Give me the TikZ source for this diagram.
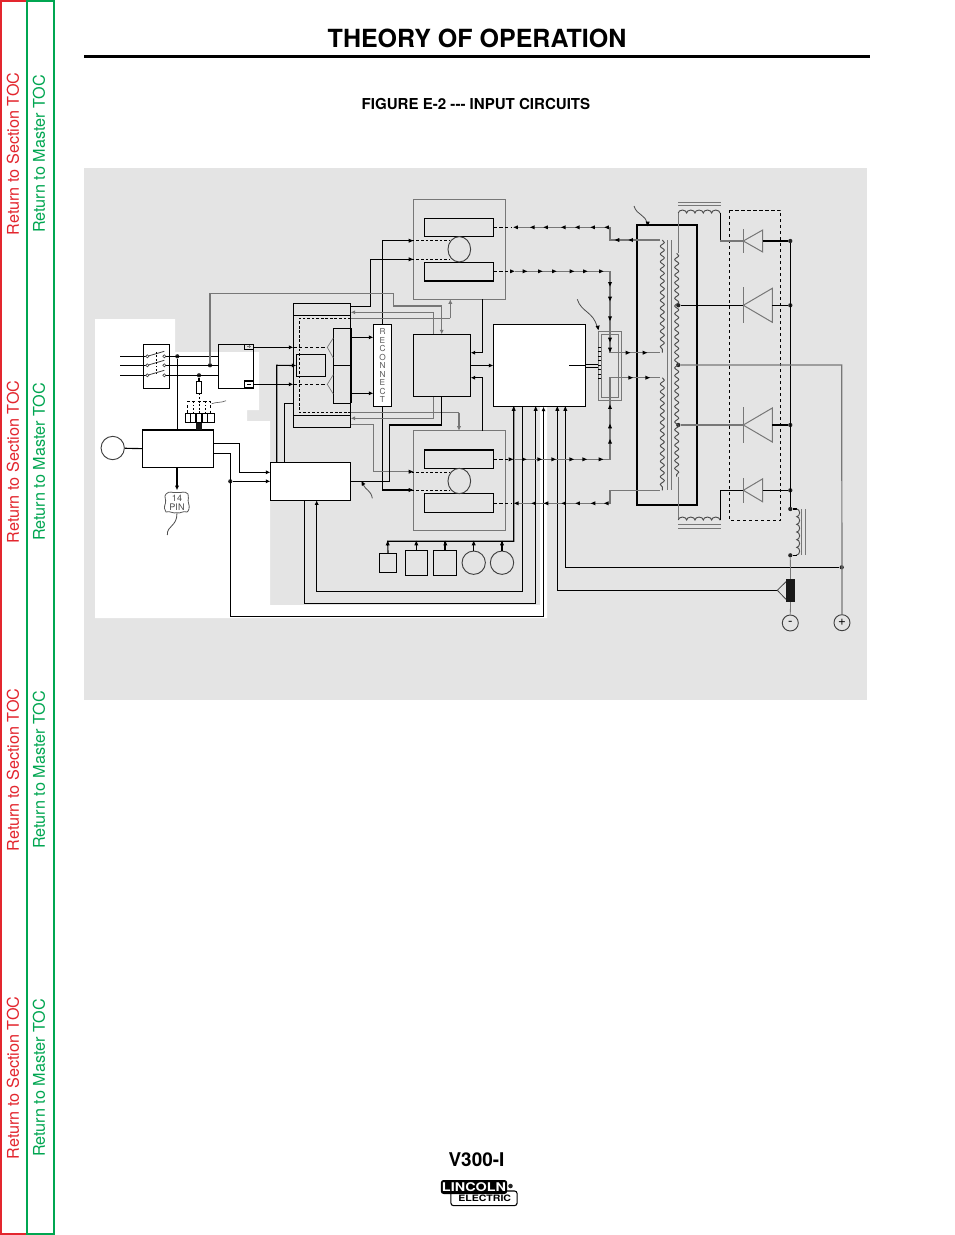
\documentclass[tikz,border=0pt]{standalone}
\usepackage{fontspec}
\setmainfont{TeX Gyre Heros}
\usetikzlibrary{arrows.meta,decorations.pathmorphing,shapes.geometric}
\definecolor{panelgray}{HTML}{E4E4E4}
\definecolor{tocred}{HTML}{E3262E}
\definecolor{tocgreen}{HTML}{00A651}
\definecolor{midgray}{HTML}{777777}
\tikzset{
	blk/.style={draw,line width=.85pt,inner sep=0,outer sep=0},
	gblk/.style={draw=midgray,line width=.9pt,inner sep=0,outer sep=0},
	wire/.style={line width=.85pt},
	gwire/.style={line width=.9pt,draw=midgray},
	dwire/.style={line width=.75pt,dash pattern=on 2.4pt off 1.8pt},
	thin dwire/.style={line width=.6pt,dash pattern=on 1.2pt off 1.4pt},
	jdot/.style={circle,fill=black!85,inner sep=0,minimum size=3.2pt},
	ring/.style={circle,draw=black!75,line width=.7pt,inner sep=0},
	oval/.style={ellipse,draw=black!75,line width=.7pt,inner sep=0},
	winding/.style={line width=.7pt,draw=black!70,decorate,decoration={snake,segment length=5.8pt,amplitude=1.5pt}},
	choke/.style={line width=.7pt,draw=black!70,decorate,decoration={bumps,segment length=12.5pt,amplitude=2.2pt}},
	tocside/.style={rotate=90,font=\fontsize{12.15pt}{14pt}\selectfont}
}
% box from its two corners, in pixels of the page
\newcommand{\blk}[6][blk]{\node[#1,minimum width={(#5-#3)*.75pt},minimum height={(#6-#4)*.75pt}] (#2) at ({(#3+#5)/2},{(#4+#6)/2}) {};}
% small arrow head in the run of a wire
\newcommand{\tipat}[3]{\fill[shift={(#1,#2)},rotate=#3] (1.7pt,0)--(-1.7pt,1.5pt)--(-1.7pt,-1.5pt)--cycle;}
% diode: name, y, half height, base x
\newcommand{\diode}[4]{
	\coordinate (#1a) at (743.3,#2);
	\coordinate (#1k) at (#4,#2);
	\draw[gwire,line width=.75pt] (743.3,#2-#3-1) -- (743.3,#2+#3+1);
	\draw[gwire,line width=.75pt] (#1a) -- (#4,#2-#3) -- (#4,#2+#3) -- cycle;
}
\begin{document}
\begin{tikzpicture}[x=.75pt,y=-.75pt,>={Latex[length=3.4pt,width=3.2pt]}]
	\useasboundingbox (0,0) rectangle (954,1235);
	\fill[white] (0,0) rectangle (954,1235);

	% side tabs
	\draw[tocred,line width=1.1pt] (1,1) rectangle (27,1234);
	\draw[tocgreen,line width=1.5pt] (27,1) rectangle (54,1234);
	\foreach \y in {154,462,770,1078} {
		\node[tocside,text=tocred] (sec\y) at (13,\y) {Return to Section TOC};
		\node[tocside,text=tocgreen] (mas\y) at (39,\y) {Return to Master TOC};
	}

	% heading
	\node[font=\fontsize{18.75pt}{22pt}\bfseries\selectfont] (title) at (477,38) {THEORY OF OPERATION};
	\draw[line width=2.2pt] (84,56.5) -- (870,56.5);
	\node[font=\fontsize{11.3pt}{13pt}\bfseries\selectfont] (figname) at (476,104.5) {FIGURE E-2 -{}-{}- INPUT CIRCUITS};

	% panel
	\fill[panelgray] (84,168) rectangle (867,700);
	\fill[white] (95,319) -- (175,319) -- (175,352) -- (259,352) -- (259,410) -- (247,410) -- (247,421)
		-- (270,421) -- (270,605) -- (540,605) -- (540,400) -- (547,400) -- (547,618) -- (95,618) -- cycle;

	% blocks
	\blk{switch}{143.3}{344.3}{169.7}{388.3}
	\blk{bridge}{218.3}{344.3}{253.7}{388.3}
	\blk{bridgep}{244.3}{344.3}{253.7}{349.3}
	\blk{bridgem}{244.3}{381}{253.7}{387.3}
	\blk{ctrl}{142.3}{430}{213.3}{467.3}
	\blk{resist}{196.3}{381.3}{201.7}{393.7}
	\blk{strip}{185.3}{413.3}{214.7}{422.7}
	\node[ring,minimum size=17.5pt] (meter) at (112.7,448) {};
	\node[font=\fontsize{6.8pt}{7pt}\selectfont,align=center,text=black!70] (pin14) at (177,502.5) {14\\[-.5pt]PIN};
	\blk{hub}{413.3}{334.3}{470.7}{396.7}
	\blk[gblk]{scrtop}{413.3}{199.3}{505.7}{299.3}
	\blk[gblk]{scrbot}{413.3}{430.7}{505.7}{530.7}
	\blk[blk,fill=white]{board}{270.3}{462.3}{350.7}{500.3}
	\blk[blk,fill=white]{chip}{493.3}{324.3}{585.7}{406.7}
	\node[blk,line width=1.5pt,minimum width=45.5pt,minimum height=210.2pt] (xfmr) at (667,365.2) {};
	\blk{fanbox}{379.3}{553.3}{396.7}{572.7}
	\blk{solb}{405.3}{550.3}{427.7}{575.3}
	\blk{solc}{433.3}{550.3}{456.7}{575.3}
	\node[ring,minimum size=17.5pt] (fand) at (473.7,562.7) {};
	\node[ring,minimum size=17.5pt] (fane) at (502,562.7) {};
	\node[ring,minimum size=12pt,font=\fontsize{10pt}{10pt}\selectfont] (neg) at (790.3,623) {-};
	\node[ring,minimum size=12pt,font=\fontsize{10pt}{10pt}\selectfont] (pos) at (842,622.7) {+};

	% junctions
	\node[jdot] (ja) at (177.3,356.3) {};
	\node[jdot] (jb) at (210,365.3) {};
	\node[jdot] (jc) at (199,375.3) {};
	\node[jdot] (jd) at (230.3,481.3) {};
	\node[jdot] (je) at (678.3,305.3) {};
	\node[jdot] (jf) at (678.3,365) {};
	\node[jdot] (jg) at (678.3,425) {};
	\foreach \n/\y in {b1/241,b2/305.3,b3/425,b4/490.3,b5/509,b6/555.3} {
		\node[jdot] (\n) at (790.3,\y) {};
	}
	\node[jdot] (jh) at (841.7,567.3) {};

	% input side
	\foreach \y/\n in {356.3/a,365.3/b,375.3/c} {
		\coordinate (swl\n) at (147.3,\y);
		\coordinate (swr\n) at (164.3,\y);
		\draw[wire] (120,\y) -- (swl\n);
		\draw[wire] (swr\n) -- (218.3,\y);
		\draw[line width=.6pt,black!75] (swl\n) -- (164.3,\y-5);
		\fill[white,draw=black!80,line width=.4pt] (swl\n) circle (1.2pt) (swr\n) circle (1.2pt);
	}
	\draw[thin dwire] (156.3,352) -- (156.3,373);
	\draw[wire] (ja) -- (ja |- ctrl.north);
	\draw[wire] (jc) -- (resist.north);
	\draw[thin dwire] (resist.south) -- (199,413.3);
	\draw[dwire,line width=.6pt] (187.3,413.3) -- (187.3,401.3) -- (210.7,401.3) -- (210.7,413.3);
	\foreach \x in {193.3,199,205} {
		\draw[thin dwire] (\x,401.3) -- (\x,413.3);
	}
	\foreach \x in {190.7,196,202,207.3} {
		\draw[wire] (\x,413.3) -- (\x,422.7);
	}
	\fill[black!90] (196,422.7) rectangle (202,430);
	\draw[black!60,line width=.5pt] (211.7,403.7) .. controls (217,401.7) and (221,403) .. (226,400.7);
	\draw[wire] (meter) -- (ctrl.west);
	\draw[wire,->] (ctrl.south -| pin14) -- (pin14.north);
	\draw[black!65,line width=.6pt] (166,494) .. controls (170,490) and (172,493.5) .. (177,492.5)
		.. controls (182,493.5) and (184,490) .. (188,494) .. controls (190,497) and (187,499) .. (188.5,503)
		.. controls (190,507) and (189,511) .. (187,512) .. controls (183,510.5) and (180,514) .. (177,512.7)
		.. controls (173,514) and (170,510.5) .. (166,512) .. controls (164,510) and (164,507) .. (165.5,503)
		.. controls (166.5,499) and (163.5,497) .. (166,494);
	\draw[black!70,line width=.6pt] (177,513) .. controls (177,527) and (167,525) .. (167.3,535);
	\draw[midgray,line width=.5pt] (247,346.8) -- (251,346.8) (249,345.3) -- (249,348.3);
	\draw[line width=.5pt] (247,384.2) -- (251,384.2);

	% power block
	\blk{power}{293.3}{303.3}{350.7}{427.3}
	\draw[wire] (power.west |- 0,315.3) -- (power.east |- 0,315.3);
	\draw[wire] (power.west |- 0,415.3) -- (power.east |- 0,415.3);
	\blk{gate}{296.3}{354.3}{325.7}{376.7}
	\blk{drive}{333.3}{328.3}{350.7}{403.3}
	\draw[wire] (drive.west |- 0,365.3) -- (drive.east |- 0,365.3);
	\draw[line width=1.3pt] (351,328.3) -- (351,403.3);
	\draw[wire,->] (bridgep.east |- 0,347.3) -- (power.west |- 0,347.3);
	\draw[wire,->] (bridgem.east |- 0,384.3) -- (power.west |- 0,384.3);
	\draw[dwire] (293.3,347.3) -- (327.3,347.3);
	\draw[dwire] (293.3,384.3) -- (327.3,384.3);
	\draw[midgray,line width=.5pt] (333.3,338) -- (327.3,347.3) -- (333.3,358);
	\draw[midgray,line width=.5pt] (333.3,374.7) -- (327.3,384.3) -- (333.3,394);
	\draw[thin dwire,line width=.7pt,dash pattern=on 2pt off 1.4pt] (350.7,318.3) -- (299.3,318.3) -- (299.3,412.7) -- (350.7,412.7);
	\draw[wire,->] (board.north -| 276.7,0) -- (276.7,365.3) -- (gate.west);
	\draw[wire] (board.north -| 284.3,0) -- (284.3,403.3) -- (power.west |- 0,403.3);

	% wires round the hub
	\draw[wire] (411.7,240.7) -- (382.3,240.7) -- (382.3,490) -- (411.7,490);
	\tipat{411}{240.7}{0}
	\tipat{411}{490}{0}
	\draw[wire] (411,259.3) -- (370.3,259.3) -- (370.3,306.5) -- (350.7,306.5);
	\tipat{411}{259.3}{0}
	\draw[gwire] (jb) -- (210,293.7) -- (393.3,293.7) -- (393.3,306) -- (441.7,306);
	\draw[gwire,->] (441.7,306) -- (441.7,334.3);
	\draw[gwire,<-] (350.7,312.3) -- (433.3,312.3) -- (433.3,334.3);
	\draw[gwire] (350.7,318.3) -- (450.3,318.3);
	\draw[gwire,->] (450.3,318.3) -- (scrtop.south -| 450.3,0);
	\draw[gwire] (350.7,412.7) -- (459,412.7);
	\draw[gwire,->] (459,412.7) -- (scrbot.north -| 459,0);
	\draw[gwire,<-] (350.7,418.3) -- (433.3,418.3) -- (433.3,396.7);
	\draw[gwire] (350.7,424.7) -- (373.7,424.7) -- (373.7,471.7) -- (411.7,471.7);
	\tipat{411}{471.7}{0}
	\draw[wire] (board.east) -- (389.3,481.3) -- (389.3,425) -- (441.3,425) -- (441.3,396.7);
	\draw[black!70,line width=.6pt] (363,484) .. controls (366,491) and (371,490) .. (372.3,498.3);
	\tipat{362.5}{483}{120}
	\draw[wire,->] (482.3,299.3) -- (482.3,352.7) -- (470.7,352.7);
	\draw[wire,->] (482.3,430.7) -- (482.3,377.7) -- (470.7,377.7);
	\draw[wire,->] (hub.east) -- (chip.west |- hub.east);

	% reconnect
	\draw[wire,->] (351,337.3) -- (373.3,337.3);
	\draw[wire,->] (351,393.3) -- (373.3,393.3);
	\blk[blk,fill=white]{reconn}{373.3}{324.7}{391.7}{406.7}
	\node[font=\fontsize{6.2pt}{6.35pt}\selectfont,align=center,text=black!65] (reconnt) at (reconn) {R\\E\\C\\O\\N\\N\\E\\C\\T};

	% control board feeds
	\draw[wire] (ctrl.east |- 0,443.3) -- (239.3,443.3) -- (239.3,472.3);
	\draw[wire,->] (239.3,472.3) -- (board.west |- 0,472.3);
	\draw[wire,->] (jd) -- (board.west |- jd);
	\draw[wire,->] (ctrl.east |- 0,453.3) -- (230.3,453.3) -- (230.3,616.3) -- (543.5,616.3) -- (chip.south -| 543.5,0);
	\draw[wire,->] (chip.south -| 522.7,0) -- (522.7,591.5) -- (316.7,591.5) -- (board.south -| 316.7,0);
	\draw[wire] (chip.south -| 535.7,0) -- (535.7,603.3) -- (304.3,603.3) -- (board.south -| 304.3,0);
	\tipat{535.7}{408.5}{90}
	\draw[wire] (chip.south -| 513.7,0) -- (513.7,541.3) -- (387.7,541.3) -- (fanbox.north);
	\tipat{513.7}{408.5}{90}
	\foreach \n in {solb,solc,fand,fane} {
		\draw[wire] (\n.north) -- (\n.north |- 0,541.3);
	}
	\foreach \x in {387.7,416.3,445.3,473.7,502} {
		\tipat{\x}{543}{90}
	}
	\draw[wire] (chip.south -| 557.3,0) -- (557.3,590.3) -- (777.3,590.3);
	\tipat{557.3}{408.5}{90}
	\draw[wire] (chip.south -| 565.3,0) -- (565.3,567.3) -- (jh);
	\tipat{565.3}{408.5}{90}

	% scr modules
	\blk{bara}{424.3}{218.3}{493.7}{236.7}
	\blk{barb}{424.3}{262.3}{493.7}{281}
	\blk{barc}{424.3}{450}{493.7}{468.3}
	\blk{bard}{424.3}{493.3}{493.7}{512.3}
	\node[oval,minimum width=17pt,minimum height=19pt] (scra) at (459.3,249.3) {};
	\node[oval,minimum width=17pt,minimum height=19pt] (scrb) at (459.3,481) {};
	\draw[thin dwire,dash pattern=on 2pt off 1.5pt] (411.7,240.7) -- (450,240.7);
	\draw[thin dwire,dash pattern=on 2pt off 1.5pt] (411.7,259.3) -- (450,259.3);
	\draw[thin dwire,dash pattern=on 2pt off 1.5pt] (411.7,472) -- (450,472);
	\draw[thin dwire,dash pattern=on 2pt off 1.5pt] (411.7,490.3) -- (450,490.3);

	% sensor
	\blk[gblk]{sensor}{598.3}{331.3}{621.7}{400.7}
	\blk[gblk]{sensori}{601.3}{334.3}{618.7}{397.3}
	\draw[wire] (569,365.3) -- (chip.east |- 0,365.3);
	\draw[wire] (585.7,364.3) -- (598.3,364.3);
	\draw[wire] (585.7,367.3) -- (598.3,367.3);
	\foreach \y in {347,351.5,356,360.5,365,369.5,374,378.5} {
		\draw[wire,line width=.5pt] (598.3,\y) -- (601.3,\y);
	}
	\draw[black!70,line width=.6pt] (577.3,299.3) .. controls (581,312) and (594,312) .. (597,327);
	\tipat{598}{328}{280}

	% wires to transformer primary
	\draw[gwire] (515,227.3) -- (610,227.3) -- (610,240) -- (660,240);
	\draw[gwire] (515,271.3) -- (610,271.3) -- (610,352.7) -- (660,352.7);
	\draw[gwire] (515,459.3) -- (610,459.3) -- (610,377.7) -- (660,377.7);
	\draw[gwire] (515,503.3) -- (610,503.3) -- (610,490.3) -- (660,490.3);
	\foreach \y in {227.3,271.3,459.3,503.3} {
		\draw[dwire] (493.7,\y) -- (512,\y);
	}
	\foreach \x in {515.7,532.3,545.7,563.3,577.3,592.7,606.7} {
		\tipat{\x}{227.3}{180}
	}
	\foreach \x in {617,630.7} {
		\tipat{\x}{240}{180}
	}
	\foreach \x in {512.3,525,540.3,554.3,572,585.3,601.3} {
		\tipat{\x}{271.3}{0}
	}
	\foreach \y in {284.3,299,318.7,340,350} {
		\tipat{610}{\y}{270}
	}
	\foreach \x in {628,645} {
		\tipat{\x}{352.7}{0}
	}
	\foreach \x in {630.7,647.7} {
		\tipat{\x}{377.7}{0}
	}
	\foreach \y in {406.7,426,441.3} {
		\tipat{610}{\y}{90}
	}
	\foreach \x in {511,524.3,539.7,553.7,571.7,584.7,601} {
		\tipat{\x}{459.3}{0}
	}
	\foreach \x in {516.3,533.7,546,563.7,577.7,593,606.3} {
		\tipat{\x}{503.3}{180}
	}

	% transformer
	\draw[black!70,line width=.6pt] (634,206) .. controls (637,216) and (646,214) .. (647,224);
	\tipat{647.7}{224}{270}
	\draw[winding] (662.3,240) -- (662.3,352.7);
	\draw[winding] (662.3,377.7) -- (662.3,490.3);
	\draw[gwire,line width=.6pt] (667,240) -- (667,490.3);
	\draw[gwire,line width=.6pt] (671.7,240) -- (671.7,490.3);
	\draw[winding] (676.7,253.3) -- (676.7,476.7);
	\draw[gwire] (678.3,253.3) -- (678.3,213);
	\draw[gwire] (678.3,476.7) -- (678.3,520);
	\draw[choke] (678.3,213) -- (720.3,213);
	\draw[choke] (678.3,520) -- (720.3,520);
	\draw[gwire,line width=.6pt] (678,202.3) -- (720.7,202.3);
	\draw[gwire,line width=.6pt] (678,205.7) -- (720.7,205.7);
	\draw[gwire,line width=.6pt] (678,524.3) -- (720.7,524.3);
	\draw[gwire,line width=.6pt] (678,528.3) -- (720.7,528.3);

	% rectifier
	\draw[dwire,dash pattern=on 2.6pt off 1.9pt] (729.3,210) rectangle (780.7,520.3);
	\diode{da}{241}{11}{762.7}
	\diode{db}{305.3}{17}{772.3}
	\diode{dc}{425}{17}{772.3}
	\diode{dd}{490.3}{11.5}{762.7}
	\draw[wire] (720.3,213) -- (720.3,241);
	\draw[gwire] (720.3,241) -- (daa);
	\draw[wire] (je) -- (dba);
	\draw[gwire] (jg) -- (dca);
	\draw[wire] (720.3,520) -- (720.3,490.3) -- (dda);
	\draw[wire] (dak) -- (b1);
	\draw[wire] (dbk) -- (b2);
	\draw[wire] (dck) -- (b3);
	\draw[wire] (ddk) -- (b4);
	\draw[wire] (b1) -- (b5);

	% output choke and shunt
	\draw[wire] (b5) -- (796.7,509);
	\draw[choke,decoration={segment length=11.5pt}] (796.7,509) -- (796.7,555.3);
	\draw[wire] (796.7,555.3) -- (b6);
	\draw[gwire,line width=.6pt] (801.7,509) -- (801.7,555.3);
	\draw[gwire,line width=.6pt] (805.7,509) -- (805.7,555.3);
	\node[fill=black!90,inner sep=0,minimum width=6.75pt,minimum height=17.2pt] (shunt) at (790.5,590.5) {};
	\draw[gwire,line width=.6pt] (b6) -- (shunt.north);
	\draw[gwire,line width=.6pt] (shunt.south) -- (neg.north);
	\draw[black!75,line width=.6pt] (786,581.7) -- (777.3,590.3) -- (786,599.3);
	\draw[gwire] (jf) -- (841.7,365) -- (pos.north);

	% foot
	\node[font=\fontsize{14.2pt}{16pt}\bfseries\selectfont] (model) at (476.5,1159.5) {V300-I};
	\node[draw,fill=white,rounded corners=2pt,line width=.8pt,minimum width=49.7pt,minimum height=11pt,inner sep=0,
		font=\fontsize{6.6pt}{7pt}\bfseries\selectfont] (logob) at (484,1198.3) {\hspace{1pt}\scalebox{1.2}[1]{ELECTRIC}};
	\node[fill=black,rounded corners=2pt,text=white,minimum width=49.7pt,minimum height=10.5pt,inner sep=0,
		font=\fontsize{9pt}{10pt}\bfseries\selectfont] (logoa) at (474,1187) {\scalebox{1.2}[1]{LINCOLN}};
	\node[jdot,minimum size=3.4pt] (logoc) at (510.5,1186) {};
\end{tikzpicture}
\end{document}
